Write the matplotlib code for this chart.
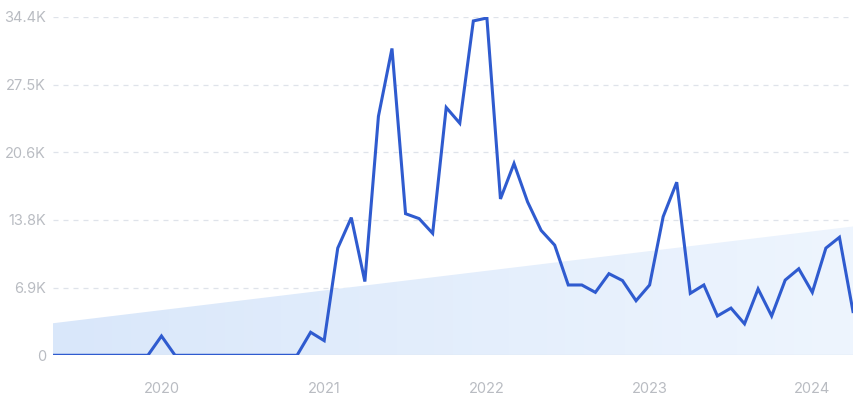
import numpy as np
import matplotlib.pyplot as plt
from matplotlib.colors import LinearSegmentedColormap

# =========================
# DATA (thousands, monthly May 2019 -> Apr 2024)
# =========================

months = np.arange(60)

values = [
    0, 0, 0, 0, 0, 0, 0, 0, 1.96, 0,
    0, 0, 0, 0, 0, 0, 0, 0, 0, 2.34,
    1.49, 10.9, 14.0, 7.5, 24.3, 31.2, 14.4, 13.9, 12.4, 25.2,
    23.6, 34.0, 34.3, 15.9, 19.5, 15.6, 12.7, 11.2, 7.15, 7.15,
    6.4, 8.3, 7.6, 5.55, 7.15, 14.1, 17.6, 6.3, 7.15, 4.0,
    4.8, 3.2, 6.75, 4.0, 7.65, 8.8, 6.4, 10.9, 12.0, 4.45,
]

trend_start = 3.26
trend_end = 13.1

year_ticks = [8, 20, 32, 44, 56]
year_labels = ["2020", "2021", "2022", "2023", "2024"]

y_ticks = [0, 6.88, 13.76, 20.64, 27.52, 34.4]
y_labels = ["0", "6.9K", "13.8K", "20.6K", "27.5K", "34.4K"]

LINE_COLOR = "#2f5bcf"
LABEL_COLOR = "#b9bcc2"
GRID_COLOR = "#dfe3ea"

# =========================
# PLOT
# =========================

plt.rcParams["font.family"] = ["Inter", "DejaVu Sans"]

fig = plt.figure(figsize=(8.59, 3.99), dpi=100)
ax = fig.add_axes([53 / 859, 1 - 355.3 / 399, 800 / 859, (355.3 - 17) / 399])

x0, x1 = months[0], months[-1]
ax.set_xlim(x0, x1)
ax.set_ylim(0, 34.4)

# trend area with horizontal gradient
trend = np.linspace(trend_start, trend_end, len(months))
poly = ax.fill_between(months, 0, trend, color="none", linewidth=0)
cmap = LinearSegmentedColormap.from_list("trend", ["#d9e7fa", "#eef5fe"])
grad = np.linspace(0, 1, 256).reshape(1, -1)
img = ax.imshow(grad, cmap=cmap, aspect="auto", extent=[x0, x1, 0, 34.4],
                origin="lower", zorder=1)
img.set_clip_path(poly.get_paths()[0], transform=ax.transData)

for yv in y_ticks[1:]:
    ax.axhline(yv, color=GRID_COLOR, linewidth=0.9, linestyle=(0, (4, 4)), zorder=0)
ax.axhline(0, color="#dde5ef", linewidth=1.0, zorder=2)

ax.plot(months, values, color=LINE_COLOR, linewidth=2.2, zorder=3,
        solid_joinstyle="miter")

ax.set_xticks(year_ticks)
ax.set_xticklabels(year_labels)
ax.set_yticks(y_ticks)
ax.set_yticklabels(y_labels)
ax.tick_params(axis="both", length=0, labelsize=10.5, colors=LABEL_COLOR)
ax.tick_params(axis="x", pad=19)
ax.tick_params(axis="y", pad=5)

for spine in ax.spines.values():
    spine.set_visible(False)

fig.savefig("out.png", dpi=100)
